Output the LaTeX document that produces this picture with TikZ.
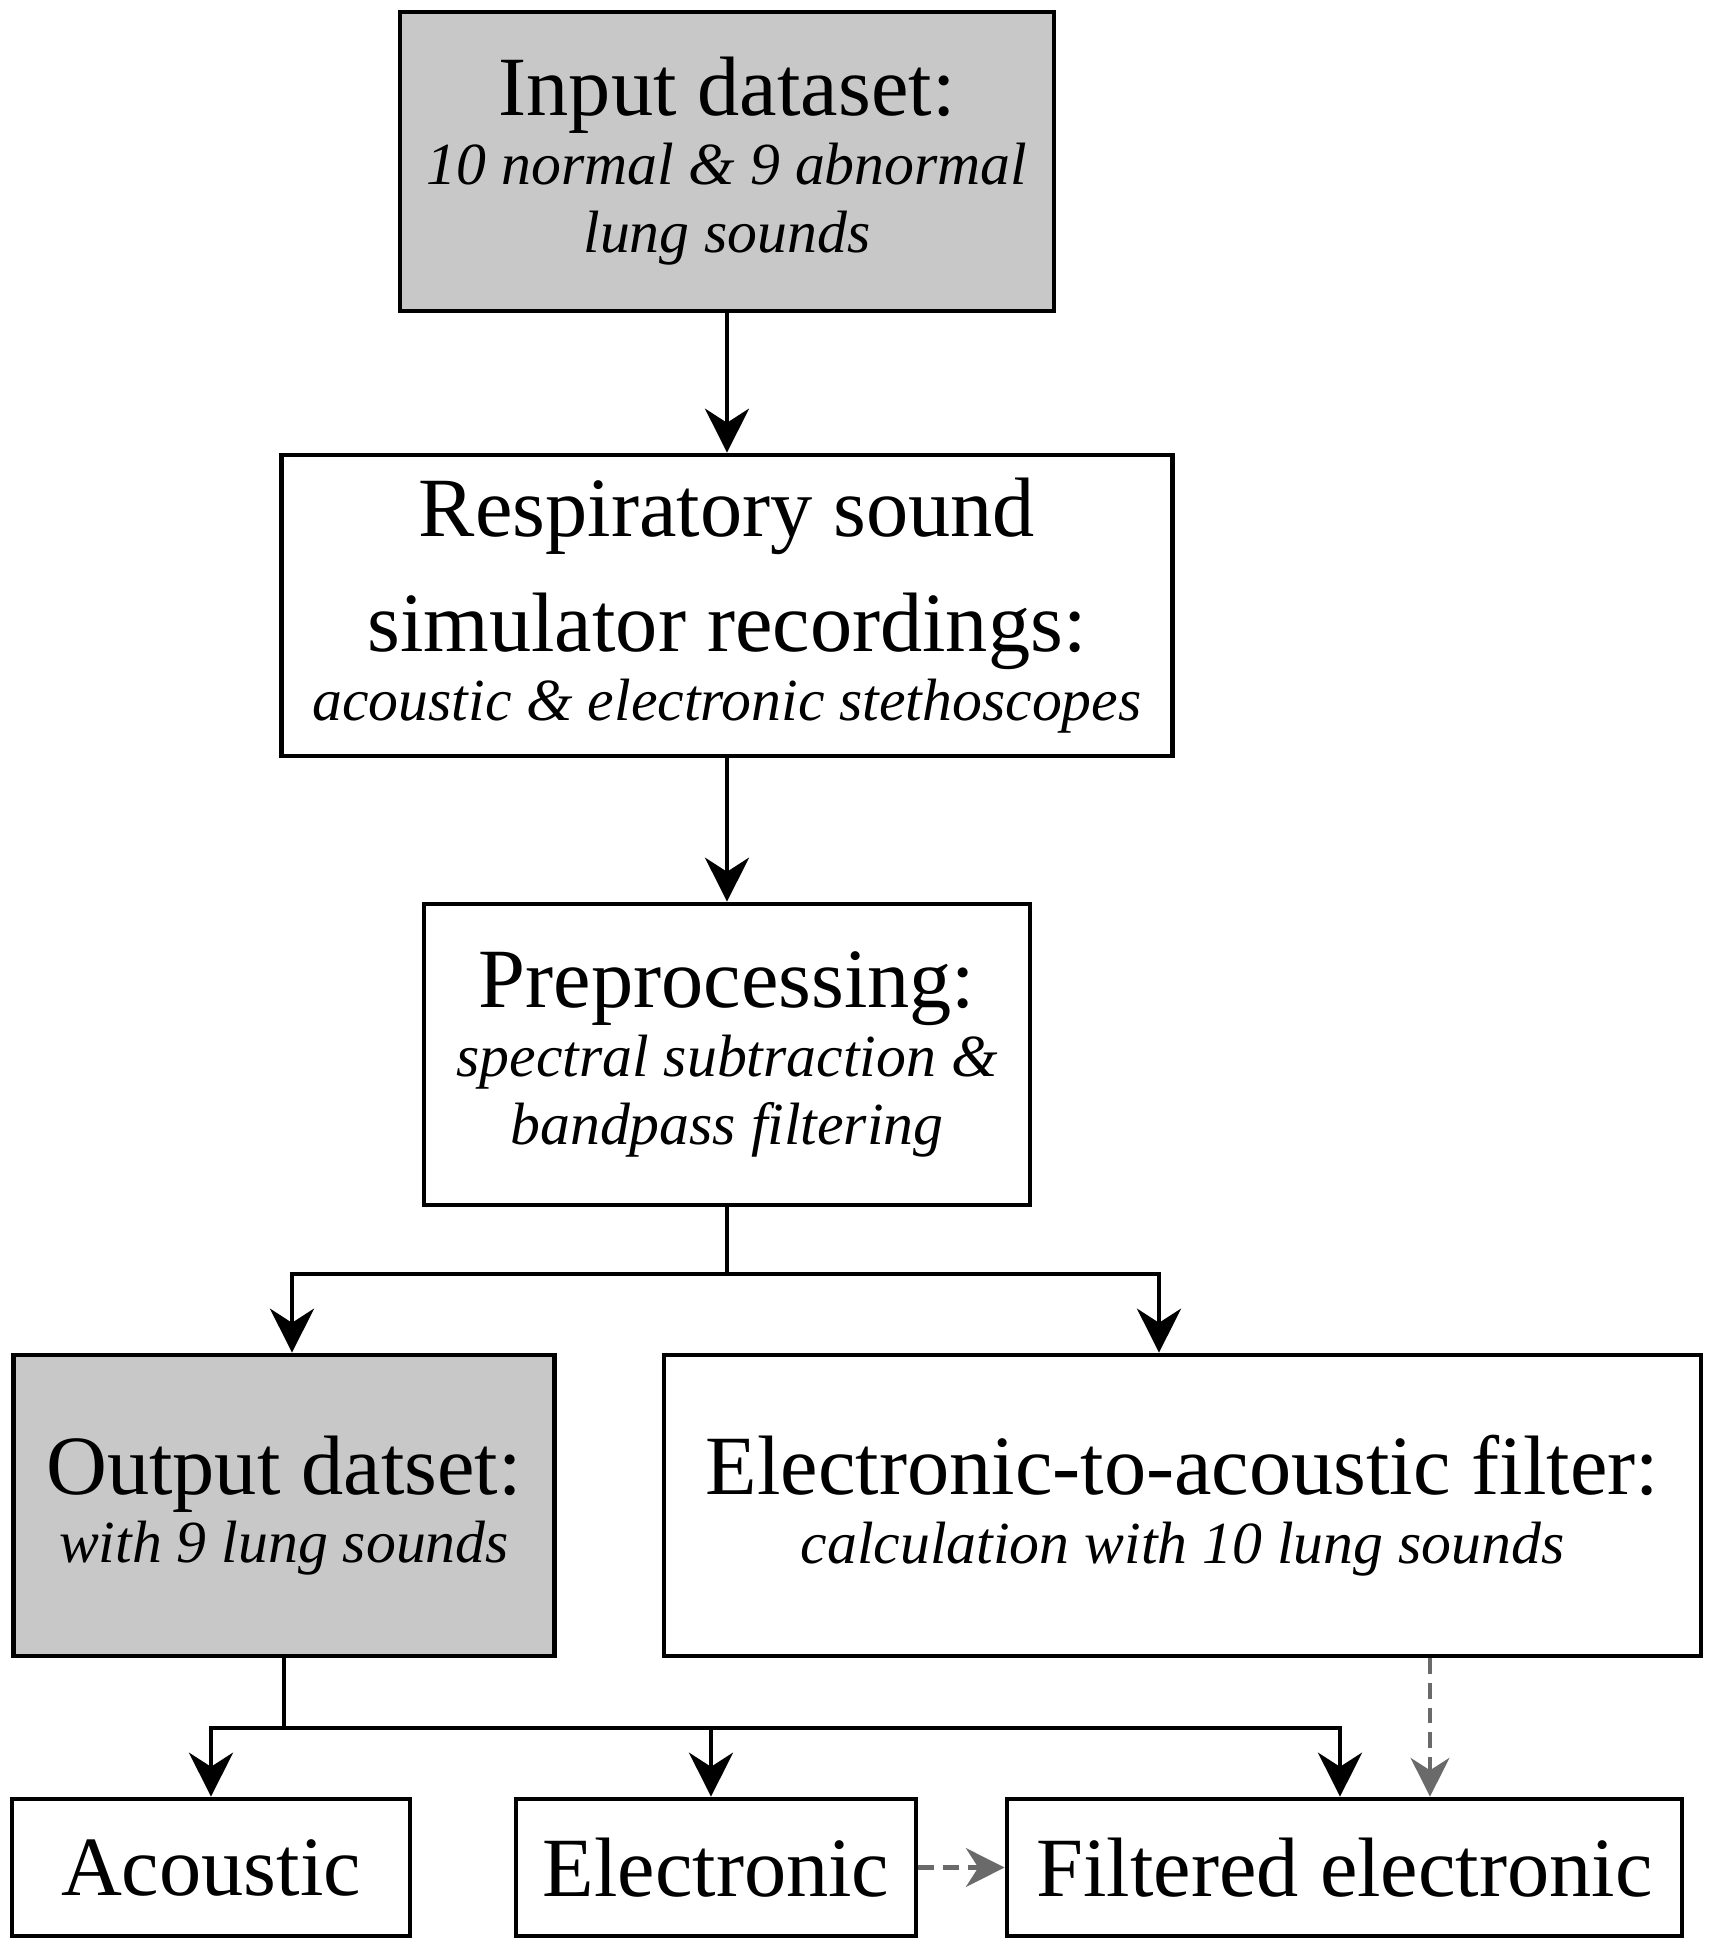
\documentclass[tikz,border=0pt]{standalone}
\usepackage{fontspec}
\setmainfont{Liberation Serif}
\usetikzlibrary{arrows.meta}
\definecolor{boxgray}{HTML}{C8C8C8}
\definecolor{dashgray}{HTML}{6A6A6A}
\tikzset{
  box/.style={draw=black, line width=1.35pt, rectangle, inner sep=0pt, align=center,
    font=\fontsize{24}{19.5}\selectfont},
  shaded/.style={box, fill=boxgray},
  arr/.style={line width=1.25pt, -{Stealth[length=12.5pt, width=12.5pt, inset=4pt]}},
  plain/.style={line width=1.25pt},
  dasharr/.style={line width=1.2pt, dashgray, dash pattern=on 4.5pt off 2.5pt,
    -{Stealth[length=11pt, width=11pt, inset=3.5pt]}},
}
\newcommand{\sub}[1]{{\fontsize{17}{19.5}\selectfont\itshape #1}}
\begin{document}
\begin{tikzpicture}[x=0.1mm, y=-0.1mm]
\useasboundingbox (0,0) rectangle (1717,1950);
\node[shaded, minimum width=65.4mm, minimum height=29.9mm] (b1) at (727,161.5)
  {Input dataset:\\ \sub{10 normal \& 9 abnormal}\\ \sub{lung sounds}};
\node[box, minimum width=89.1mm, minimum height=30.1mm] (b2) at (727,605.5)
  {Respiratory sound\\[10pt] simulator recordings:\\ \sub{acoustic \& electronic stethoscopes}};
\node[box, minimum width=60.6mm, minimum height=30.1mm] (b3) at (727,1054.5)
  {Preprocessing:\\ \sub{spectral subtraction \&}\\ \sub{bandpass filtering}};
\node[shaded, minimum width=54.1mm, minimum height=30.1mm] (b4) at (284,1505.5)
  {Output datset:\\ \sub{with 9 lung sounds}};
\node[box, minimum width=103.7mm, minimum height=30.1mm] (b5) at (1182.5,1505.5)
  {Electronic-to-acoustic filter:\\ \sub{calculation with 10 lung sounds}};
\node[box, minimum width=39.8mm, minimum height=13.7mm] (a) at (211,1867.5) {Acoustic};
\node[box, minimum width=40mm, minimum height=13.7mm] (e) at (716,1867.5) {Electronic};
\node[box, minimum width=67.5mm, minimum height=13.7mm] (f) at (1344.5,1867.5) {Filtered electronic};

\coordinate (j1) at (727,1274);
\coordinate (j2) at (284,1728);

\draw[arr] (b1.south) -- (b2.north);
\draw[arr] (b2.south) -- (b3.north);
\draw[plain] (b3.south) -- (j1);
\draw[arr] (j1) -| ([xshift=0.8mm]b4.north);
\draw[arr] (j1) -| ([xshift=-2.35mm]b5.north);
\draw[plain] (b4.south) -- (j2);
\draw[arr] (j2) -| (a.north);
\draw[arr] (j2) -| ([xshift=-0.45mm]f.north);
\draw[arr] ([xshift=-0.5mm]e.north |- j2) -- ([xshift=-0.5mm]e.north);
\draw[dasharr] ([xshift=24.75mm]b5.south) -- ([xshift=24.75mm]b5.south |- f.north);
\draw[dasharr] (e.east) -- (f.west);
\end{tikzpicture}
\end{document}
